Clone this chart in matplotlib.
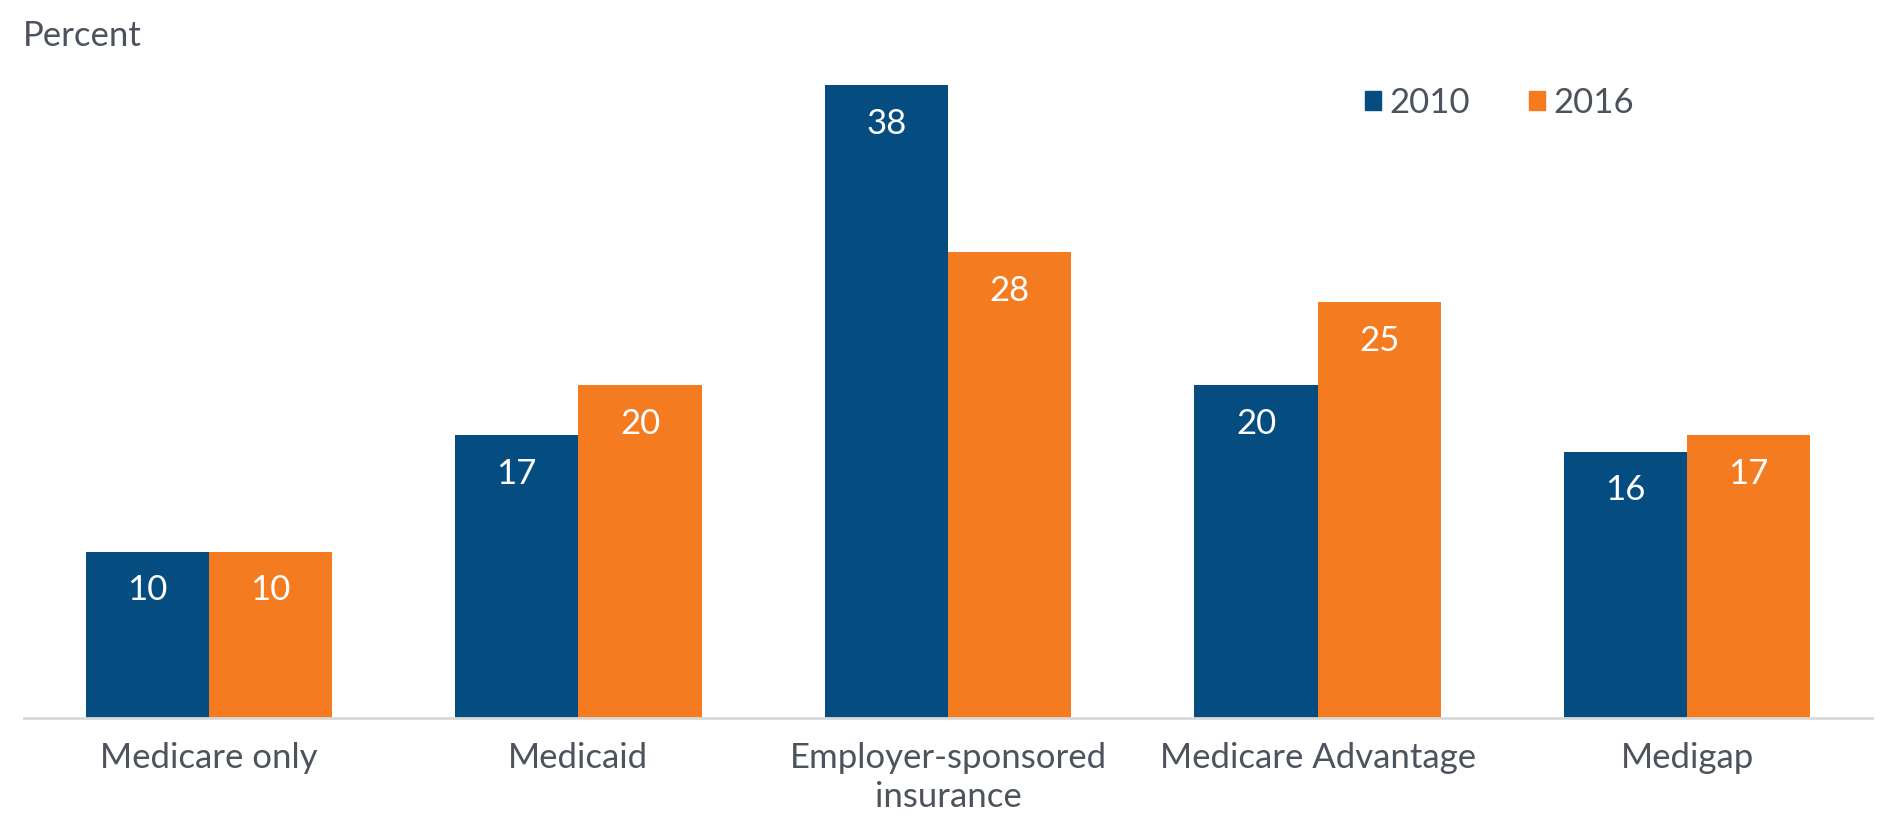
import matplotlib.pyplot as plt
import numpy as np
from matplotlib.patches import Patch

plt.rcParams['font.family'] = ['Lato', 'DejaVu Sans']

categories = ['Medicare only', 'Medicaid', 'Employer-sponsored\ninsurance',
              'Medicare Advantage', 'Medigap']
years = ['2010', '2016']
vals_2010 = [10, 17, 38, 20, 16]
vals_2016 = [10, 20, 28, 25, 17]

blue = '#054C80'
orange = '#F47B20'
grey = '#4D535C'
fs = 25

fig = plt.figure(figsize=(18.82, 8.22), dpi=100)
ax = fig.add_axes([24 / 1882, 104 / 822, 1848 / 1882, 666 / 822])

x = np.arange(len(categories))
w = 1 / 3
b1 = ax.bar(x - w / 2, vals_2010, w, color=blue)
b2 = ax.bar(x + w / 2, vals_2016, w, color=orange)

for bars in (b1, b2):
    for r in bars:
        ax.annotate(f'{r.get_height():.0f}', (r.get_x() + r.get_width() / 2, r.get_height()),
                    xytext=(0, -28), textcoords='offset points', ha='center', va='center',
                    color='white', fontsize=fs)

ax.set_xlim(-0.5, len(categories) - 0.5)
ax.set_ylim(0, 40)
ax.set_xticks(x)
ax.set_xticklabels(categories, fontsize=fs, color=grey, linespacing=1.3)
ax.tick_params(axis='x', length=0, pad=17)
ax.set_yticks([])
for s in ('top', 'right', 'left'):
    ax.spines[s].set_visible(False)
ax.spines['bottom'].set_color('#D9D9D9')
ax.spines['bottom'].set_linewidth(2)

fig.text(23 / 1882, 1 - 36 / 822, 'Percent', fontsize=fs, color=grey, va='center', ha='left')

handles = [Patch(color=blue), Patch(color=orange)]
leg = fig.legend(handles, years, loc='center left', bbox_to_anchor=(1365 / 1882, 1 - 103 / 822),
                 ncol=2, frameon=False, fontsize=fs, handlelength=0.45, handleheight=0.45,
                 handletextpad=0.25, columnspacing=1.7, borderpad=0, borderaxespad=0)
for t in leg.get_texts():
    t.set_color(grey)

fig.savefig('out.png', dpi=100)
